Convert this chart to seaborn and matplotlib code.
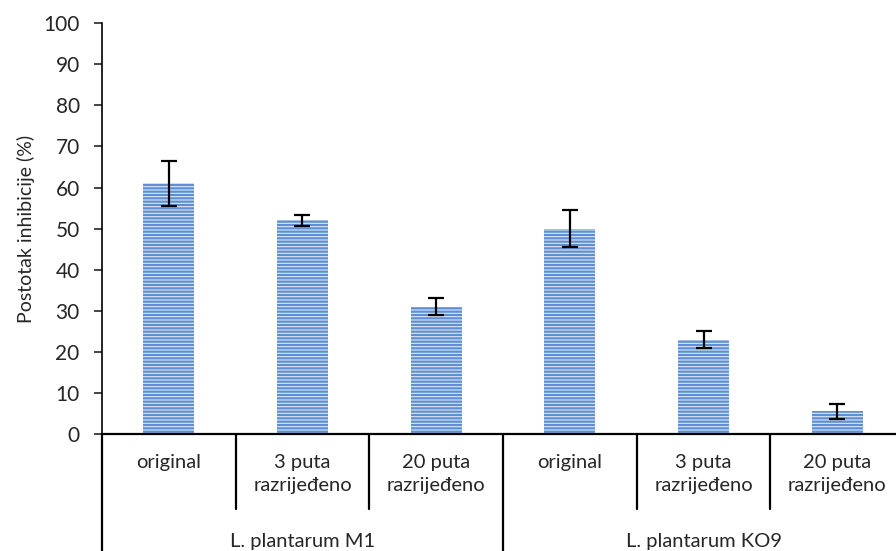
import matplotlib
matplotlib.use("Agg")
import matplotlib.pyplot as plt
import pandas as pd
import seaborn as sns

groups = ["L. plantarum M1", "L. plantarum KO9"]
treatments = ["original", "3 puta\nrazrijeđeno", "20 puta\nrazrijeđeno"]
values = [61, 52, 31, 50, 23, 5.5]
errors = [5.5, 1.3, 2.0, 4.5, 2.0, 1.8]

df = pd.DataFrame({
    "bar": [f"{g} | {t}" for g in groups for t in treatments],
    "value": values,
})

sns.set_style("white")
plt.rcParams["font.family"] = ["Lato", "DejaVu Sans"]
plt.rcParams["hatch.linewidth"] = 1.6
fs = 14.5

fig = plt.figure(figsize=(8.96, 5.51), dpi=100)
ax = fig.add_axes([0.1138, 0.2123, 0.8862, 0.7455])

sns.barplot(data=df, x="bar", y="value", ax=ax, width=0.38,
            color="#dde7f6", edgecolor="#5f8fd3", linewidth=0, hatch="-----",
            saturation=1)
ax.errorbar(range(len(values)), values, yerr=errors, fmt="none",
            ecolor="black", elinewidth=1.6, capsize=6, capthick=1.6)

ax.set_xlim(-0.5, 5.44)
ax.set_ylim(0, 100)
ax.set_yticks(range(0, 101, 10))
ax.tick_params(axis="y", labelsize=15, length=6, width=1.2, direction="out", left=True, pad=10)
ax.set_xticks([])
ax.set_xlabel("")
ax.set_ylabel("Postotak inhibicije (%)", fontsize=14, labelpad=6)
for s in ["top", "right"]:
    ax.spines[s].set_visible(False)
ax.spines["left"].set_linewidth(1.2)
ax.spines["bottom"].set_linewidth(1.6)
ax.spines["left"].set_color("black")
ax.spines["bottom"].set_color("black")

# multi-level category axis
trans = ax.get_xaxis_transform()
px = 1 / (0.7455 * 551)
for i in range(len(values)):
    gi, ti = divmod(i, 3)
    ax.text(i, -20 * px, treatments[ti], transform=trans, ha="center", va="top",
            fontsize=fs, linespacing=1.4, clip_on=False)
for b in range(7):
    x = b - 0.5
    bottom = -117 * px if b % 3 == 0 else -75 * px
    ax.plot([x, x], [0, bottom], transform=trans, color="black", lw=1.6, clip_on=False)
for g, name in enumerate(groups):
    ax.text(g * 3 + 1, -107 * px, name, transform=trans, ha="center", va="center",
            fontsize=fs, clip_on=False)

fig.savefig("out.png", dpi=100)
